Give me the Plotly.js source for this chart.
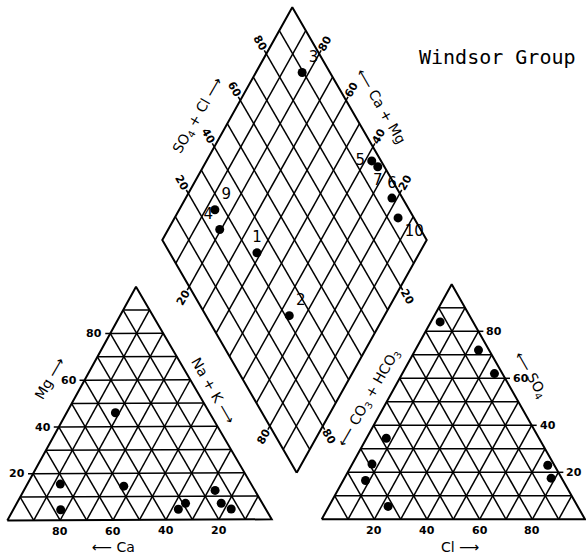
<!DOCTYPE html>
<html>
<head>
<meta charset="utf-8">
<script src="https://cdn.plot.ly/plotly-3.0.1.min.js"></script>
<style>
  html, body { margin: 0; padding: 0; background: #fff; }
  #chart { width: 586px; height: 558px; }
</style>
</head>
<body>
<div id="chart"></div>
<script>
// Windsor Group — Piper trilinear diagram of water analyses (percent of milliequivalents)

// Cation triangle: Ca, Mg, Na + K
const cationCa  = [35.5, 72, 77.5, 48.5, 33, 29, 15, 15.5, 13];
const cationMg  = [46, 15.5, 4.5, 14.5, 4.5, 7, 12.5, 7, 4.5];
const cationNaK = [18.5, 12.5, 18, 37, 62.5, 64, 72.5, 77.5, 82.5];

// Anion triangle: CO3 + HCO3, SO4, Cl
const anionCO3 = [12.5, 4, 3, 58, 69, 75, 72, 2.5, 4];
const anionSO4 = [84, 72, 62, 34.5, 23.5, 16.5, 5.5, 23, 17.5];
const anionCl  = [3.5, 24, 35, 7.5, 7.5, 8.5, 22.5, 74.5, 78.5];

// Central diamond: sample number, SO4 + Cl, Ca + Mg
const sampleLabels = ['3', '9', '4', '1', '5', '7', '6', '10', '2'];
const diamondSO4Cl = [89.5, 26.5, 24, 33, 96.5, 97.5, 96, 94, 31.5];
const diamondCaMg  = [82.5, 86.5, 80.5, 61.5, 37.5, 34, 22, 15.5, 36];

// Scale labels
const triangleTicks = [20, 40, 60, 80];
const diamondUpperTicks = [20, 40, 60, 80];
const diamondLowerTicks = [20, 80];

// ---- drawing geometry (pixel space of the figure) ----
const catV = [[7.3, 520.5], [136, 286.7], [271.7, 519.3]];   // Ca, Mg, Na+K corners
const anV  = [[321.7, 519.3], [451.7, 284.3], [585, 519.3]]; // CO3+HCO3, SO4, Cl corners
const dB = [296.7, 472.7], dR = [426.7, 240], dL = [162.3, 240];

function bary(V, w) {
  const s = w[0] + w[1] + w[2];
  return [(V[0][0] * w[0] + V[1][0] * w[1] + V[2][0] * w[2]) / s,
          (V[0][1] * w[0] + V[1][1] * w[1] + V[2][1] * w[2]) / s];
}
function diaXY(a, c) {
  return [dB[0] + a * (dR[0] - dB[0]) + c * (dL[0] - dB[0]),
          dB[1] + a * (dR[1] - dB[1]) + c * (dL[1] - dB[1])];
}
function unit(p, q) {
  const dx = q[0] - p[0], dy = q[1] - p[1], n = Math.hypot(dx, dy);
  return [dx / n, dy / n];
}
function move(p, d, k) { return [p[0] + d[0] * k, p[1] + d[1] * k]; }

const grid = { x: [], y: [] }, frame = { x: [], y: [] }, ticks = { x: [], y: [] };
function seg(store, pts) {
  pts.forEach(p => { store.x.push(p[0]); store.y.push(p[1]); });
  store.x.push(null); store.y.push(null);
}

function triangleGrid(V) {
  for (let k = 1; k <= 9; k++) {
    const f = k / 10;
    seg(grid, [bary(V, [1 - f, f, 0]), bary(V, [0, f, 1 - f])]);
    seg(grid, [bary(V, [f, 1 - f, 0]), bary(V, [f, 0, 1 - f])]);
    seg(grid, [bary(V, [0, 1 - f, f]), bary(V, [1 - f, 0, f])]);
  }
  seg(frame, [V[0], V[1], V[2], V[0]]);
}
triangleGrid(catV);
triangleGrid(anV);

for (let k = 1; k <= 9; k++) {
  const f = k / 10;
  seg(grid, [diaXY(f, 0), diaXY(f, 1)]);
  seg(grid, [diaXY(0, f), diaXY(1, f)]);
}
seg(frame, [diaXY(0, 0), diaXY(1, 0), diaXY(1, 1), diaXY(0, 1), diaXY(0, 0)]);

const font = { family: 'DejaVu Sans, sans-serif', color: '#000' };
const annotations = [];
function label(p, text, size, opts, weight) {
  annotations.push(Object.assign({
    x: p[0], y: p[1], xref: 'x', yref: 'y', text: text, showarrow: false,
    xanchor: 'center', yanchor: 'middle',
    font: Object.assign({}, font, { size: size, weight: weight || 'normal' })
  }, opts || {}));
}
const tick = (p, v, opts) => label(p, String(v), 11, opts, 'bold');

// Cation triangle scales
const catLeft = unit(catV[2], catV[0]);
triangleTicks.forEach(v => {
  const e = bary(catV, [100 - v, v, 0]);
  const t = move(e, catLeft, 5);
  seg(ticks, [e, t]);
  tick([t[0] - 1, t[1]], v, { xanchor: 'right' });
  const b = bary(catV, [v, 0, 100 - v]);
  tick([b[0], b[1] + 11], v);
});
// Anion triangle scales
const anRight = unit(anV[0], anV[2]);
triangleTicks.forEach(v => {
  const e = bary(anV, [0, v, 100 - v]);
  const t = move(e, anRight, 5);
  seg(ticks, [e, t]);
  tick([t[0] + 1, t[1]], v, { xanchor: 'left' });
  const b = bary(anV, [100 - v, 0, v]);
  tick([b[0], b[1] + 11], v);
});
// Diamond scales
const dirUL = unit(dB, dL), dirUR = unit(dB, dR), dirLL = unit(dR, dB), dirLR = unit(dL, dB);
diamondUpperTicks.forEach(v => {
  const e1 = diaXY(v / 100, 1);
  seg(ticks, [e1, move(e1, dirUL, 4)]);
  tick(move(e1, dirUL, 12), v, { textangle: 60 });
  const e2 = diaXY(1, v / 100);
  seg(ticks, [e2, move(e2, dirUR, 4)]);
  tick(move(e2, dirUR, 12), v, { textangle: -60 });
});
diamondLowerTicks.forEach(v => {
  const e1 = diaXY(0, 1 - v / 100);
  seg(ticks, [e1, move(e1, dirLL, 4)]);
  tick(move(e1, dirLL, 12), v, { textangle: -60 });
  const e2 = diaXY(1 - v / 100, 0);
  seg(ticks, [e2, move(e2, dirLR, 4)]);
  tick(move(e2, dirLR, 12), v, { textangle: 60 });
});

// Axis names
label([50, 378], 'Mg ⟶', 14, { textangle: -60 });
label([213, 390], 'Na + K ⟶', 14, { textangle: 60 });
label([113, 547], '⟵ Ca', 14);
label([198, 116], 'SO<sub>4</sub> + Cl ⟶', 14, { textangle: -60 });
label([381, 106], '⟵ Ca + Mg', 14, { textangle: 60 });
label([369, 398], '⟵ CO<sub>3</sub> + HCO<sub>3</sub>', 14, { textangle: -60 });
label([530, 375], '⟵ SO<sub>4</sub>', 14, { textangle: 60 });
label([460, 547], 'Cl ⟶', 14);
annotations.push({
  x: 497, y: 57, xref: 'x', yref: 'y', text: 'Windsor Group', showarrow: false,
  xanchor: 'center', yanchor: 'middle',
  font: { family: 'DejaVu Sans Mono, monospace', size: 20, color: '#000' }
});

// Points
const catPts = cationCa.map((ca, i) => bary(catV, [ca, cationMg[i], cationNaK[i]]));
const anPts = anionCO3.map((co3, i) => bary(anV, [co3, anionSO4[i], anionCl[i]]));
const diaPts = diamondSO4Cl.map((a, i) => diaXY(a / 100, diamondCaMg[i] / 100));
const labelPos = ['top right', 'top right', 'top left', 'top center', 'middle left',
                  'bottom center', 'top center', 'bottom right', 'top right'];

const line = (store, w) => ({
  type: 'scatter', mode: 'lines', x: store.x, y: store.y, hoverinfo: 'skip',
  line: { color: '#000', width: w }
});
const marker = { color: '#000', size: 9 };

const data = [
  line(grid, 1.5),
  line(ticks, 1.5),
  line(frame, 2),
  { type: 'scatter', mode: 'markers', x: catPts.map(p => p[0]), y: catPts.map(p => p[1]), marker: marker },
  { type: 'scatter', mode: 'markers', x: anPts.map(p => p[0]), y: anPts.map(p => p[1]), marker: marker },
  { type: 'scatter', mode: 'markers+text', x: diaPts.map(p => p[0]), y: diaPts.map(p => p[1]),
    text: sampleLabels, textposition: labelPos, marker: marker,
    textfont: Object.assign({}, font, { size: 15 }) }
];

const layout = {
  width: 586, height: 558,
  margin: { l: 0, r: 0, t: 0, b: 0 },
  paper_bgcolor: '#fff', plot_bgcolor: '#fff',
  showlegend: false,
  xaxis: { range: [0, 586], visible: false, fixedrange: true },
  yaxis: { range: [558, 0], visible: false, fixedrange: true },
  annotations: annotations
};

Plotly.newPlot('chart', data, layout, { staticPlot: true });
</script>
</body>
</html>
